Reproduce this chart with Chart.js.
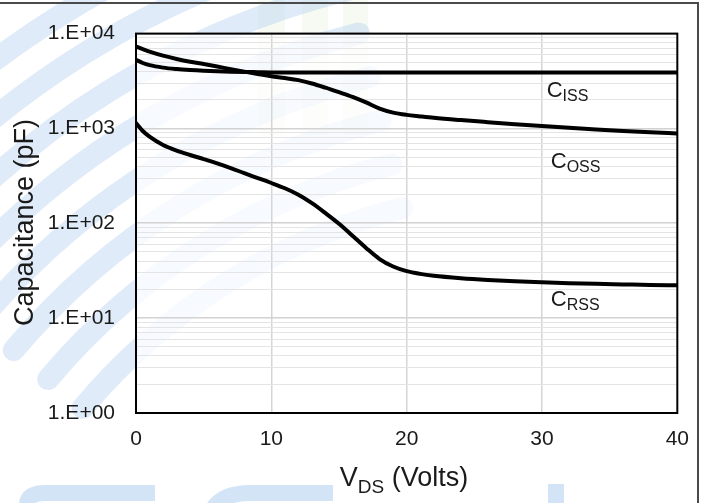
<!DOCTYPE html>
<html>
<head>
<meta charset="utf-8">
<title>Capacitance vs. Drain-Source Voltage</title>
<script src="https://cdn.jsdelivr.net/npm/chart.js@4/dist/chart.umd.min.js"></script>
<style>
  html, body { margin: 0; padding: 0; background: #ffffff; }
  #wrap { width: 703px; height: 503px; }
</style>
</head>
<body>
<div id="wrap"><canvas id="cap" width="703" height="503"></canvas></div>
<script>
// Drain-source voltage (V) at which the capacitances are sampled
const vds = [0, 0.5, 1, 2, 3, 4, 5, 6, 7, 8, 9, 10, 11, 12, 13, 14, 15, 16, 17, 18, 19, 20, 21,
             22, 24, 26, 28, 30, 32, 34, 36, 38, 40];

// Input capacitance (pF)
const cissPF = [5300, 4900, 4650, 4380, 4230, 4130, 4060, 4010, 3970, 3940, 3920, 3900, 3900, 3890,
                3890, 3890, 3890, 3890, 3890, 3890, 3890, 3890, 3890, 3890, 3880, 3880, 3880, 3880,
                3880, 3880, 3880, 3880, 3880];

// Output capacitance (pF)
const cossPF = [7300, 6850, 6450, 5850, 5400, 5050, 4780, 4500, 4220, 3970, 3750, 3550, 3400, 3230,
                2980, 2690, 2410, 2150, 1880, 1620, 1470, 1390, 1340, 1295, 1225, 1165, 1110, 1060,
                1015, 975, 940, 910, 885];

// Reverse transfer capacitance (pF)
const crssPF = [1140, 940, 820, 670, 585, 525, 475, 428, 382, 338, 300, 266, 234, 200, 163, 128, 99,
                74, 55, 42, 35, 31.3, 29.3, 28, 26.4, 25.3, 24.5, 23.9, 23.4, 23.0, 22.7, 22.4, 22.2];

const xTickStep = 10;
const yDecadeLabels = ['1.E+00', '1.E+01', '1.E+02', '1.E+03', '1.E+04'];

// Curve captions: main letter, subscript, and the (V, pF) point they sit at
const curveCaptions = [
  { main: 'C', sub: 'ISS', v: 30.35, pf: 2140 },
  { main: 'C', sub: 'OSS', v: 30.65, pf: 380 },
  { main: 'C', sub: 'RSS', v: 30.65, pf: 13.4 }
];

const FONT = '"Liberation Sans", Arial, sans-serif';
const INK = '#1a1a1a';

const toPoints = ys => vds.map((v, i) => ({ x: v, y: ys[i] }));

// Faint logo watermark behind everything, softened inside the plot box
const watermark = {
  id: 'watermark',
  beforeDraw(chart) {
    const { ctx, chartArea: a } = chart;
    ctx.save();
    ctx.fillStyle = '#ffffff';
    ctx.fillRect(0, 0, chart.width, chart.height);

    // green upright bars near the top
    ctx.fillStyle = 'rgba(205,230,185,0.18)';
    [[258, 27], [302, 26], [343, 25]].forEach(([x, w]) => ctx.fillRect(x, 0, w, 135));

    // blue swoosh bands sweeping up to the right
    ctx.strokeStyle = 'rgba(170,200,238,0.36)';
    ctx.lineWidth = 22;
    ctx.lineCap = 'round';
    const deg = Math.PI / 180;
    for (let r = 610; r <= 930; r += 45) {
      ctx.beginPath();
      ctx.arc(550, 800, r, -140 * deg, -104 * deg);
      ctx.stroke();
    }

    // blue letter outlines along the bottom edge
    ctx.strokeStyle = 'rgba(175,205,240,0.55)';
    ctx.lineWidth = 16;
    ctx.lineCap = 'butt';
    ctx.beginPath();
    ctx.moveTo(27, 510); ctx.lineTo(27, 505);
    ctx.quadraticCurveTo(27, 493, 45, 493); ctx.lineTo(155, 493);
    ctx.stroke();
    ctx.beginPath();
    ctx.moveTo(212, 510); ctx.quadraticCurveTo(222, 493, 250, 493); ctx.lineTo(333, 493);
    ctx.stroke();
    ctx.beginPath();
    ctx.moveTo(556, 484); ctx.lineTo(556, 510);
    ctx.stroke();

    // white haze over the plotting box
    ctx.fillStyle = 'rgba(255,255,255,0.72)';
    ctx.fillRect(a.left, a.top, a.right - a.left, a.bottom - a.top);
    ctx.restore();
  }
};

// Plot frame, outer border, axis titles and curve captions
const decorations = {
  id: 'decorations',
  afterDraw(chart) {
    const { ctx, chartArea: a, scales } = chart;
    ctx.save();

    ctx.strokeStyle = '#000000';
    ctx.lineWidth = 2;
    ctx.strokeRect(a.left, a.top, a.right - a.left, a.bottom - a.top);

    ctx.strokeStyle = '#4a4a4a';
    ctx.beginPath();
    ctx.moveTo(0, 3); ctx.lineTo(698, 3); ctx.lineTo(698, 503);
    ctx.stroke();

    ctx.fillStyle = INK;
    ctx.textBaseline = 'alphabetic';

    // y title
    ctx.save();
    ctx.translate(33, 222.5);
    ctx.rotate(-Math.PI / 2);
    ctx.font = '27px ' + FONT;
    ctx.textAlign = 'center';
    ctx.fillText('Capacitance (pF)', 0, 0);
    ctx.restore();

    // x title with subscript
    ctx.textAlign = 'left';
    const big = '27px ' + FONT, small = '19px ' + FONT;
    ctx.font = big; const wV = ctx.measureText('V').width;
    const wRest = ctx.measureText(' (Volts)').width;
    ctx.font = small; const wDS = ctx.measureText('DS').width;
    let x = 404 - (wV + wDS + wRest) / 2;
    const base = 486;
    ctx.font = big; ctx.fillText('V', x, base); x += wV;
    ctx.font = small; ctx.fillText('DS', x, base + 7); x += wDS;
    ctx.font = big; ctx.fillText(' (Volts)', x, base);

    // curve captions
    curveCaptions.forEach(c => {
      const px = scales.x.getPixelForValue(c.v);
      const py = scales.y.getPixelForValue(c.pf);
      ctx.font = '22px ' + FONT;
      ctx.fillText(c.main, px, py);
      const w = ctx.measureText(c.main).width;
      ctx.font = '16px ' + FONT;
      ctx.fillText(c.sub, px + w, py + 4);
    });
    ctx.restore();
  }
};

const lineStyle = {
  borderColor: '#000000',
  borderWidth: 4,
  borderCapStyle: 'round',
  borderJoinStyle: 'round',
  pointRadius: 0,
  pointHoverRadius: 0,
  fill: false,
  cubicInterpolationMode: 'monotone'
};

new Chart(document.getElementById('cap'), {
  type: 'line',
  data: {
    datasets: [
      { label: 'Ciss', data: toPoints(cissPF), ...lineStyle },
      { label: 'Coss', data: toPoints(cossPF), ...lineStyle },
      { label: 'Crss', data: toPoints(crssPF), ...lineStyle }
    ]
  },
  options: {
    responsive: false,
    animation: false,
    devicePixelRatio: 1,
    layout: { padding: { top: 32, right: 24, left: 0, bottom: 0 } },
    plugins: { legend: { display: false }, tooltip: { enabled: false } },
    scales: {
      x: {
        type: 'linear',
        min: 0,
        max: 40,
        afterFit: s => { s.height = 90; },
        border: { display: false },
        grid: {
          drawTicks: false,
          color: ctx => (ctx.tick && (ctx.tick.value === 0 || ctx.tick.value === 40)) ? 'rgba(0,0,0,0)' : '#d5d5d5',
          lineWidth: 1.5
        },
        ticks: {
          stepSize: xTickStep,
          padding: 14,
          color: INK,
          font: { family: FONT, size: 21 },
          maxRotation: 0,
          callback: v => String(v)
        }
      },
      y: {
        type: 'logarithmic',
        min: 1,
        max: 10000,
        afterFit: s => { s.width = 136; },
        afterBuildTicks: s => {
          const t = [];
          for (let d = 0; d < 4; d++) {
            for (let k = 1; k < 10; k++) t.push({ value: k * Math.pow(10, d) });
          }
          t.push({ value: 10000 });
          s.ticks = t;
        },
        border: { display: false },
        grid: {
          drawTicks: false,
          color: ctx => {
            const v = ctx.tick ? ctx.tick.value : 0;
            const e = Math.round(Math.log10(v));
            return Math.abs(Math.pow(10, e) - v) < 1e-9 ? '#d2d2d2' : '#e4e4e4';
          },
          lineWidth: ctx => {
            const v = ctx.tick ? ctx.tick.value : 0;
            const e = Math.round(Math.log10(v));
            return Math.abs(Math.pow(10, e) - v) < 1e-9 ? 1.6 : 1;
          }
        },
        ticks: {
          autoSkip: false,
          padding: 21,
          color: INK,
          font: { family: FONT, size: 21 },
          callback: v => {
            const e = Math.round(Math.log10(v));
            return Math.abs(Math.pow(10, e) - v) < 1e-9 ? yDecadeLabels[e] : '';
          }
        }
      }
    }
  },
  plugins: [watermark, decorations]
});
</script>
</body>
</html>
